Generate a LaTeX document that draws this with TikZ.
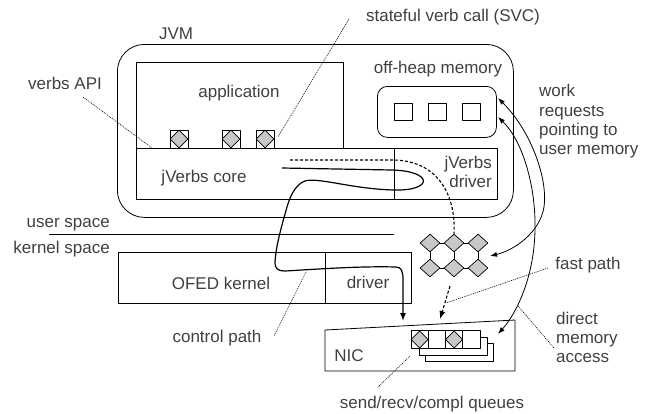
\documentclass[tikz,border=0pt]{standalone}
\usepackage{fontspec}
\setmainfont{Liberation Sans}
\usetikzlibrary{arrows.meta,shapes.geometric}
\definecolor{txt}{RGB}{64,64,64}
\definecolor{diafill}{RGB}{200,200,200}
\begin{document}
\begin{tikzpicture}[x=1pt,y=-1pt,line join=round,
  box/.style={draw,line width=0.8pt,inner sep=0pt,anchor=north west},
  lbl/.style={font=\fontsize{17}{19.2}\selectfont,text=txt,inner sep=0pt},
  diam/.style={diamond,draw,fill=diafill,line width=0.7pt,inner sep=0pt,minimum width=20pt,minimum height=18pt},
  sqr/.style={rectangle,draw,line width=0.7pt,inner sep=0pt,minimum width=18pt,minimum height=18pt},
  lead/.style={line width=0.6pt,dash pattern=on 1pt off 1pt},
  ctrl/.style={line width=1.2pt},
  fast/.style={line width=1.1pt,dash pattern=on 3pt off 2pt},
  tip/.style={-{Latex[length=8pt,width=6pt]}},
  tips/.style={{Latex[length=7pt,width=5pt]}-{Latex[length=7pt,width=5pt]}}]
\useasboundingbox (0,0) rectangle (650,413);

% JVM
\node[box,rounded corners=27pt,minimum width=396pt,minimum height=173pt] (jvm) at (117,44) {};
\node[lbl,anchor=base] (jvmlbl) at (176,39) {JVM};

% application
\node[box,minimum width=207pt,minimum height=86pt] (app) at (136,62) {};
\node[lbl,anchor=base] (applbl) at (239,97.5) {application};

% jVerbs core / driver
\node[box,minimum width=258pt,minimum height=51pt] (core) at (136,148) {};
\node[box,minimum width=103pt,minimum height=51pt] (drv) at (394,148) {};
\node[lbl,anchor=base] (corelbl) at (204,182.5) {jVerbs core};
\node[lbl,anchor=north east,align=right] (drvlbl) at (492,155.5) {jVerbs\\driver};

% API icons
\foreach \i/\x in {1/179,2/231,3/265}{
  \node[sqr] (api\i) at (\x,139) {};
  \node[diam,minimum width=18pt,minimum height=18pt] (apid\i) at (api\i.center) {};
}

% off-heap memory
\node[lbl,anchor=base] (heaplbl) at (438,73.5) {off-heap memory};
\node[box,rounded corners=10pt,minimum width=119pt,minimum height=51pt] (heap) at (377,86) {};
\foreach \i/\x in {1/403,2/437,3/471}{
  \node[sqr,minimum height=17pt] (m\i) at (\x,111.5) {};
}

% labels top
\node[lbl,anchor=base] (apilbl) at (65,89.5) {verbs API};
\node[lbl,anchor=base] (svclbl) at (453,21.5) {stateful verb call (SVC)};
\node[lbl,anchor=north west,align=left] (wrlbl) at (539,84.3) {work\\requests\\pointing to\\user memory};

% user / kernel space
\node[lbl,anchor=base east] (uslbl) at (110,227.5) {user space};
\node[lbl,anchor=base east] (kslbl) at (110,253.5) {kernel space};
\coordinate (ukl) at (49,234);
\coordinate (ukr) at (394,234);
\draw[line width=0.8pt] (ukl) -- (ukr);

% OFED
\node[box,minimum width=207pt,minimum height=51pt] (ofed) at (118,252) {};
\node[box,minimum width=86pt,minimum height=51pt] (kdrv) at (325,252) {};
\node[lbl,anchor=base] (ofedlbl) at (221,289) {OFED kernel};
\node[lbl,anchor=base] (kdrvlbl) at (368,288.5) {driver};

% lattice
\foreach \i/\x/\y in {1/430/243,2/454/243,3/478/243,4/430/268,5/454/268,6/478/268}{
  \node[diam] (L\i) at (\x,\y) {};
}
\draw[line width=0.7pt] (L1.east) -- (L2.west) (L2.east) -- (L3.west)
  (L4.east) -- (L5.west) (L5.east) -- (L6.west)
  (L1.south) -- (L4.north) (L2.south) -- (L5.north) (L3.south) -- (L6.north);

% NIC
\coordinate (nic1) at (325,330);
\coordinate (nic2) at (515,320);
\coordinate (nic3) at (515,371);
\coordinate (nic4) at (325,371);
\draw[line width=0.8pt] (nic1) -- (nic2) -- (nic3) -- (nic4) -- cycle;
\node[lbl,anchor=base] (niclbl) at (349,361) {NIC};

% queues
\node[box,fill=white,minimum width=68pt,minimum height=18pt] (r3) at (425,343) {};
\node[box,fill=white,minimum width=68pt,minimum height=18pt] (r2) at (418.5,336.5) {};
\foreach \i/\x in {1/419.6,2/436.9,3/454.1,4/471.4}{
  \node[sqr,fill=white,minimum width=17.25pt,minimum height=17.5pt] (q\i) at (\x,339.5) {};
}
\node[diam,minimum width=17.25pt,minimum height=17.5pt] (qd1) at (q1.center) {};
\node[diam,minimum width=17.25pt,minimum height=17.5pt] (qd3) at (q3.center) {};

% fast path (dashed)
\coordinate (fs) at (290,160);
\draw[fast] (fs) -- (394,160) .. controls (438,161) and (456,195) .. (L2.north);
\coordinate (fa) at (450,286);
\coordinate (fb) at (440,319);
\draw[fast,tip] (fa) -- (fb);

% control path
\coordinate (cs) at (282,168);
\coordinate (ce) at (403,321);
\draw[ctrl,tip] (cs) -- (392,170) .. controls (433,171) and (434,191) .. (394,190)
  .. controls (352,189) and (318,177) .. (305,181)
  .. controls (296,184) and (290,196) .. (287,207)
  .. controls (281,228) and (276,246) .. (275,262)
  .. controls (275,269) and (278,271) .. (285,271)
  .. controls (320,269) and (360,266) .. (396,267)
  .. controls (401,267) and (403,271) .. (403,279) -- (ce);

% DMA / work request curves
\coordinate (wa) at (498,98);
\coordinate (wb) at (490,256);
\draw[line width=0.8pt,tips] (wa) .. controls (532,132) and (548,180) .. (544,207)
  .. controls (540,232) and (515,250) .. (wb);
\coordinate (da) at (498,117);
\coordinate (db) at (498,334);
\draw[line width=0.8pt,tips] (da) .. controls (522,140) and (536,185) .. (535,230)
  .. controls (534,280) and (515,315) .. (db);

% lower labels
\node[lbl,anchor=base] (fplbl) at (588,269.5) {fast path};
\node[lbl,anchor=north west,align=left] (dmalbl) at (556,312) {direct\\memory\\access};
\node[lbl,anchor=base] (cplbl) at (217,342.5) {control path};
\node[lbl,anchor=base] (sqlbl) at (432,408.5) {send/recv/compl queues};

% leader lines
\coordinate (apiA) at (83,97);   \coordinate (apiB) at (152,148);
\draw[lead] (apiA) -- (apiB);
\coordinate (svcA) at (349,19);  \coordinate (svcB) at (278,137);
\draw[lead] (svcA) -- (svcB);
\coordinate (cpA) at (306,272);  \coordinate (cpB) at (274,336);
\draw[lead] (cpA) -- (cpB);
\coordinate (fpA) at (548,268);  \coordinate (fpB) at (446,303);
\draw[lead] (fpA) -- (fpB);
\coordinate (dmA) at (518,306);  \coordinate (dmB) at (554,348);
\draw[lead] (dmA) -- (dmB);
\coordinate (sqA) at (410,356);  \coordinate (sqB) at (377,388);
\draw[lead] (sqA) -- (sqB);
\end{tikzpicture}
\end{document}
